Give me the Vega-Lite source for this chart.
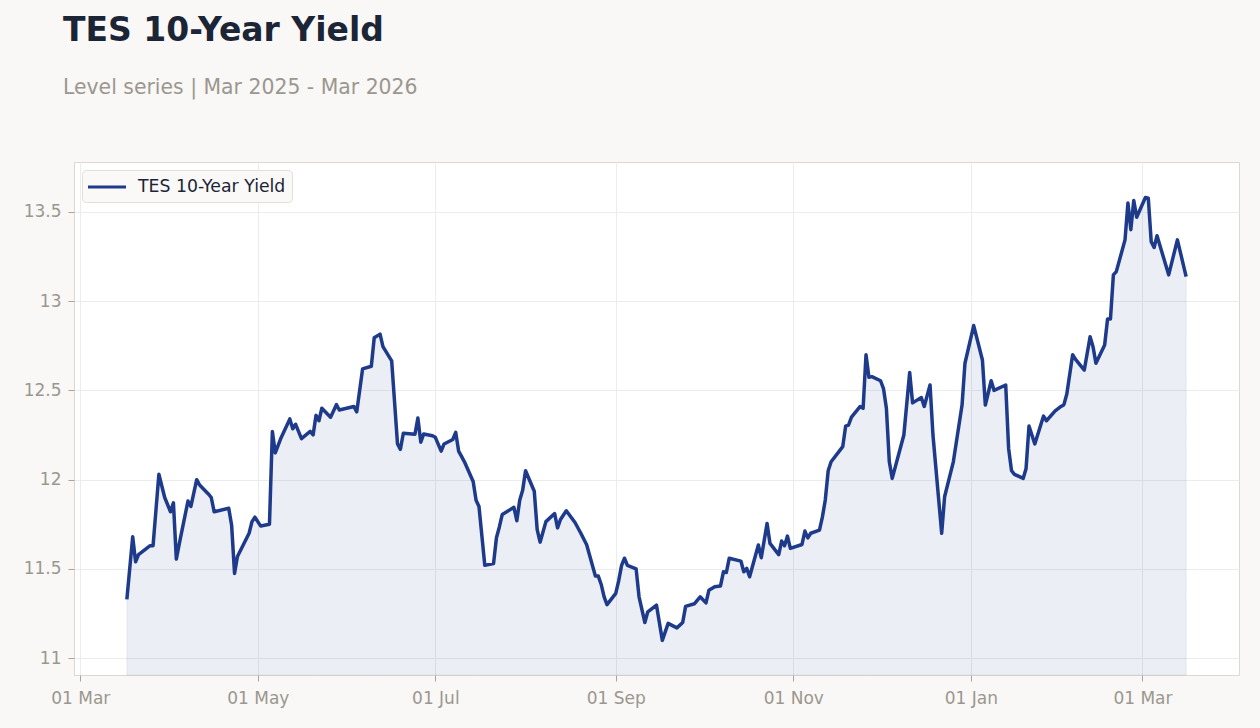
{
  "$schema": "https://vega.github.io/schema/vega-lite/v6.json",
  "width": 1165,
  "height": 513,
  "autosize": {"type": "none"},
  "padding": {"left": 74, "top": 162, "right": 21, "bottom": 53},
  "background": "#f9f8f6",
  "title": {
    "text": "TES 10-Year Yield",
    "subtitle": "Level series | Mar 2025 - Mar 2026",
    "anchor": "start",
    "frame": "group",
    "dx": -11,
    "offset": 64,
    "font": "DejaVu Sans",
    "fontSize": 33,
    "fontWeight": "bold",
    "color": "#1b2535",
    "subtitleFont": "DejaVu Sans",
    "subtitleFontSize": 20.4,
    "subtitleColor": "#9b978f",
    "subtitlePadding": 30
  },
  "config": {
    "view": {"fill": "#ffffff", "stroke": "#dcd8d1", "strokeWidth": 1},
    "axis": {
      "labelFont": "DejaVu Sans",
      "labelFontSize": 17,
      "labelColor": "#9b978f",
      "tickColor": "#a8a49d",
      "tickSize": 6,
      "gridColor": "#ececec",
      "gridWidth": 1,
      "domain": false,
      "title": null
    }
  },
  "data": {
    "values": [
      {"date": "2025-03-17", "value": 11.33},
      {"date": "2025-03-19", "value": 11.68},
      {"date": "2025-03-20", "value": 11.54},
      {"date": "2025-03-21", "value": 11.58},
      {"date": "2025-03-25", "value": 11.63},
      {"date": "2025-03-26", "value": 11.63},
      {"date": "2025-03-28", "value": 12.03},
      {"date": "2025-03-30", "value": 11.9},
      {"date": "2025-04-01", "value": 11.82},
      {"date": "2025-04-02", "value": 11.87},
      {"date": "2025-04-03", "value": 11.555},
      {"date": "2025-04-04", "value": 11.64},
      {"date": "2025-04-07", "value": 11.88},
      {"date": "2025-04-08", "value": 11.85},
      {"date": "2025-04-10", "value": 12.0},
      {"date": "2025-04-11", "value": 11.97},
      {"date": "2025-04-14", "value": 11.92},
      {"date": "2025-04-15", "value": 11.9},
      {"date": "2025-04-16", "value": 11.82},
      {"date": "2025-04-21", "value": 11.84},
      {"date": "2025-04-22", "value": 11.745},
      {"date": "2025-04-23", "value": 11.475},
      {"date": "2025-04-24", "value": 11.57},
      {"date": "2025-04-28", "value": 11.7},
      {"date": "2025-04-29", "value": 11.765},
      {"date": "2025-04-30", "value": 11.79},
      {"date": "2025-05-02", "value": 11.74},
      {"date": "2025-05-05", "value": 11.75},
      {"date": "2025-05-06", "value": 12.27},
      {"date": "2025-05-07", "value": 12.15},
      {"date": "2025-05-09", "value": 12.235},
      {"date": "2025-05-12", "value": 12.34},
      {"date": "2025-05-13", "value": 12.285},
      {"date": "2025-05-14", "value": 12.31},
      {"date": "2025-05-16", "value": 12.23},
      {"date": "2025-05-19", "value": 12.27},
      {"date": "2025-05-20", "value": 12.25},
      {"date": "2025-05-21", "value": 12.36},
      {"date": "2025-05-22", "value": 12.33},
      {"date": "2025-05-23", "value": 12.4},
      {"date": "2025-05-26", "value": 12.35},
      {"date": "2025-05-28", "value": 12.42},
      {"date": "2025-05-29", "value": 12.39},
      {"date": "2025-06-03", "value": 12.41},
      {"date": "2025-06-04", "value": 12.38},
      {"date": "2025-06-06", "value": 12.62},
      {"date": "2025-06-09", "value": 12.635},
      {"date": "2025-06-10", "value": 12.795},
      {"date": "2025-06-12", "value": 12.815},
      {"date": "2025-06-13", "value": 12.745},
      {"date": "2025-06-16", "value": 12.665},
      {"date": "2025-06-18", "value": 12.2},
      {"date": "2025-06-19", "value": 12.17},
      {"date": "2025-06-20", "value": 12.26},
      {"date": "2025-06-24", "value": 12.254},
      {"date": "2025-06-25", "value": 12.345},
      {"date": "2025-06-26", "value": 12.21},
      {"date": "2025-06-27", "value": 12.256},
      {"date": "2025-06-30", "value": 12.246},
      {"date": "2025-07-01", "value": 12.237},
      {"date": "2025-07-03", "value": 12.16},
      {"date": "2025-07-04", "value": 12.2},
      {"date": "2025-07-07", "value": 12.225},
      {"date": "2025-07-08", "value": 12.265},
      {"date": "2025-07-09", "value": 12.16},
      {"date": "2025-07-10", "value": 12.13},
      {"date": "2025-07-11", "value": 12.1},
      {"date": "2025-07-14", "value": 11.99},
      {"date": "2025-07-15", "value": 11.885},
      {"date": "2025-07-16", "value": 11.85},
      {"date": "2025-07-18", "value": 11.52},
      {"date": "2025-07-21", "value": 11.53},
      {"date": "2025-07-22", "value": 11.675},
      {"date": "2025-07-23", "value": 11.735},
      {"date": "2025-07-24", "value": 11.805},
      {"date": "2025-07-28", "value": 11.845},
      {"date": "2025-07-29", "value": 11.77},
      {"date": "2025-07-30", "value": 11.885},
      {"date": "2025-07-31", "value": 11.94},
      {"date": "2025-08-01", "value": 12.05},
      {"date": "2025-08-04", "value": 11.935},
      {"date": "2025-08-05", "value": 11.72},
      {"date": "2025-08-06", "value": 11.65},
      {"date": "2025-08-08", "value": 11.765},
      {"date": "2025-08-11", "value": 11.81},
      {"date": "2025-08-12", "value": 11.73},
      {"date": "2025-08-13", "value": 11.777},
      {"date": "2025-08-15", "value": 11.826},
      {"date": "2025-08-18", "value": 11.76},
      {"date": "2025-08-20", "value": 11.7},
      {"date": "2025-08-22", "value": 11.635},
      {"date": "2025-08-25", "value": 11.46},
      {"date": "2025-08-26", "value": 11.46},
      {"date": "2025-08-27", "value": 11.413},
      {"date": "2025-08-28", "value": 11.344},
      {"date": "2025-08-29", "value": 11.3},
      {"date": "2025-09-01", "value": 11.363},
      {"date": "2025-09-02", "value": 11.433},
      {"date": "2025-09-03", "value": 11.52},
      {"date": "2025-09-04", "value": 11.56},
      {"date": "2025-09-05", "value": 11.52},
      {"date": "2025-09-08", "value": 11.5},
      {"date": "2025-09-09", "value": 11.344},
      {"date": "2025-09-11", "value": 11.2},
      {"date": "2025-09-12", "value": 11.26},
      {"date": "2025-09-15", "value": 11.297},
      {"date": "2025-09-17", "value": 11.1},
      {"date": "2025-09-19", "value": 11.195},
      {"date": "2025-09-22", "value": 11.17},
      {"date": "2025-09-24", "value": 11.2},
      {"date": "2025-09-25", "value": 11.29},
      {"date": "2025-09-28", "value": 11.305},
      {"date": "2025-09-30", "value": 11.344},
      {"date": "2025-10-02", "value": 11.31},
      {"date": "2025-10-03", "value": 11.38},
      {"date": "2025-10-05", "value": 11.4},
      {"date": "2025-10-07", "value": 11.405},
      {"date": "2025-10-08", "value": 11.484},
      {"date": "2025-10-09", "value": 11.48},
      {"date": "2025-10-10", "value": 11.56},
      {"date": "2025-10-14", "value": 11.544},
      {"date": "2025-10-15", "value": 11.484},
      {"date": "2025-10-16", "value": 11.503},
      {"date": "2025-10-17", "value": 11.456},
      {"date": "2025-10-20", "value": 11.634},
      {"date": "2025-10-21", "value": 11.563},
      {"date": "2025-10-23", "value": 11.755},
      {"date": "2025-10-24", "value": 11.643},
      {"date": "2025-10-27", "value": 11.58},
      {"date": "2025-10-28", "value": 11.656},
      {"date": "2025-10-29", "value": 11.63},
      {"date": "2025-10-30", "value": 11.684},
      {"date": "2025-10-31", "value": 11.615},
      {"date": "2025-11-04", "value": 11.637},
      {"date": "2025-11-05", "value": 11.712},
      {"date": "2025-11-06", "value": 11.674},
      {"date": "2025-11-07", "value": 11.7},
      {"date": "2025-11-10", "value": 11.717},
      {"date": "2025-11-11", "value": 11.79},
      {"date": "2025-11-12", "value": 11.886},
      {"date": "2025-11-13", "value": 12.05},
      {"date": "2025-11-14", "value": 12.1},
      {"date": "2025-11-18", "value": 12.185},
      {"date": "2025-11-19", "value": 12.3},
      {"date": "2025-11-20", "value": 12.306},
      {"date": "2025-11-21", "value": 12.35},
      {"date": "2025-11-24", "value": 12.41},
      {"date": "2025-11-25", "value": 12.4},
      {"date": "2025-11-26", "value": 12.7},
      {"date": "2025-11-27", "value": 12.574},
      {"date": "2025-11-28", "value": 12.577},
      {"date": "2025-12-01", "value": 12.554},
      {"date": "2025-12-02", "value": 12.51},
      {"date": "2025-12-03", "value": 12.4},
      {"date": "2025-12-04", "value": 12.1},
      {"date": "2025-12-05", "value": 12.007},
      {"date": "2025-12-09", "value": 12.25},
      {"date": "2025-12-11", "value": 12.6},
      {"date": "2025-12-12", "value": 12.43},
      {"date": "2025-12-15", "value": 12.46},
      {"date": "2025-12-16", "value": 12.41},
      {"date": "2025-12-18", "value": 12.53},
      {"date": "2025-12-19", "value": 12.25},
      {"date": "2025-12-22", "value": 11.7},
      {"date": "2025-12-23", "value": 11.904},
      {"date": "2025-12-26", "value": 12.1},
      {"date": "2025-12-29", "value": 12.418},
      {"date": "2025-12-30", "value": 12.652},
      {"date": "2026-01-02", "value": 12.863},
      {"date": "2026-01-05", "value": 12.67},
      {"date": "2026-01-06", "value": 12.418},
      {"date": "2026-01-08", "value": 12.554},
      {"date": "2026-01-09", "value": 12.5},
      {"date": "2026-01-13", "value": 12.53},
      {"date": "2026-01-14", "value": 12.175},
      {"date": "2026-01-15", "value": 12.05},
      {"date": "2026-01-16", "value": 12.03},
      {"date": "2026-01-19", "value": 12.007},
      {"date": "2026-01-20", "value": 12.063},
      {"date": "2026-01-21", "value": 12.3},
      {"date": "2026-01-23", "value": 12.2},
      {"date": "2026-01-26", "value": 12.356},
      {"date": "2026-01-27", "value": 12.33},
      {"date": "2026-01-30", "value": 12.385},
      {"date": "2026-02-01", "value": 12.41},
      {"date": "2026-02-02", "value": 12.42},
      {"date": "2026-02-03", "value": 12.48},
      {"date": "2026-02-05", "value": 12.7},
      {"date": "2026-02-06", "value": 12.674},
      {"date": "2026-02-09", "value": 12.614},
      {"date": "2026-02-11", "value": 12.8},
      {"date": "2026-02-12", "value": 12.745},
      {"date": "2026-02-13", "value": 12.652},
      {"date": "2026-02-16", "value": 12.754},
      {"date": "2026-02-17", "value": 12.9},
      {"date": "2026-02-18", "value": 12.9},
      {"date": "2026-02-19", "value": 13.147},
      {"date": "2026-02-20", "value": 13.165},
      {"date": "2026-02-23", "value": 13.343},
      {"date": "2026-02-24", "value": 13.55},
      {"date": "2026-02-25", "value": 13.4},
      {"date": "2026-02-26", "value": 13.563},
      {"date": "2026-02-27", "value": 13.47},
      {"date": "2026-03-02", "value": 13.58},
      {"date": "2026-03-03", "value": 13.576},
      {"date": "2026-03-04", "value": 13.333},
      {"date": "2026-03-05", "value": 13.3},
      {"date": "2026-03-06", "value": 13.366},
      {"date": "2026-03-10", "value": 13.147},
      {"date": "2026-03-13", "value": 13.343},
      {"date": "2026-03-16", "value": 13.137}
    ]
  },
  "encoding": {
    "x": {
      "field": "date",
      "type": "temporal",
      "scale": {"domain": ["2025-02-26T20:00:00", "2026-04-03T04:00:00"]},
      "axis": {
        "format": "%d %b",
        "tickCount": {"interval": "month", "step": 2},
        "labelPadding": 9,
        "grid": true
      }
    },
    "y": {
      "field": "value",
      "type": "quantitative",
      "scale": {"domain": [10.906, 13.779], "zero": false, "nice": false},
      "axis": {
        "values": [11, 11.5, 12, 12.5, 13, 13.5],
        "format": "~g",
        "labelPadding": 7,
        "grid": true
      }
    }
  },
  "layer": [
    {
      "mark": {
        "type": "area",
        "fill": "#1e3a8a",
        "fillOpacity": 0.085,
        "stroke": "#1e3a8a",
        "strokeOpacity": 0.08,
        "strokeWidth": 1
      },
      "encoding": {"y2": {"datum": 10.906}}
    },
    {
      "mark": {"type": "line", "strokeWidth": 3.5, "strokeJoin": "round"},
      "encoding": {
        "color": {
          "datum": "TES 10-Year Yield",
          "type": "nominal",
          "scale": {"range": ["#1e3a8a"]},
          "legend": {
            "title": null,
            "orient": "top-left",
            "offset": 8,
            "padding": 6,
            "fillColor": "#faf9f7",
            "strokeColor": "#e3ded6",
            "cornerRadius": 4,
            "symbolType": "M-2,0H2",
            "symbolSize": 361,
            "symbolStrokeWidth": 3,
            "symbolOffset": 8,
            "labelFont": "DejaVu Sans",
            "labelFontSize": 17.3,
            "labelColor": "#1b2535",
            "labelOffset": 20
          }
        }
      }
    }
  ]
}
